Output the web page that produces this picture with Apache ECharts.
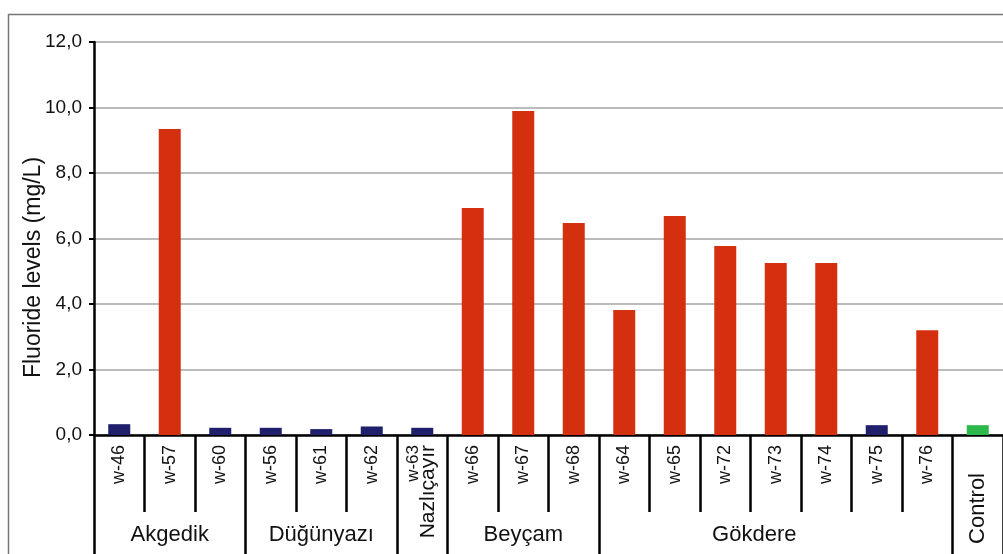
<!DOCTYPE html>
<html>
<head>
<meta charset="utf-8">
<script src="https://cdn.jsdelivr.net/npm/echarts@6/dist/echarts.min.js"></script>
<style>
  html, body { margin: 0; padding: 0; background: #fff; }
  #chart { width: 1003px; height: 554px; }
</style>
</head>
<body>
<div id="chart"></div>
<script>
// wells and their villages
var wells = ['w-46', 'w-57', 'w-60', 'w-56', 'w-61', 'w-62', 'w-63', 'w-66', 'w-67', 'w-68',
             'w-64', 'w-65', 'w-72', 'w-73', 'w-74', 'w-75', 'w-76', 'Control'];
var fluoride = [0.33, 9.34, 0.22, 0.22, 0.18, 0.26, 0.22, 6.93, 9.89, 6.47,
                3.82, 6.69, 5.77, 5.25, 5.25, 0.30, 3.20, 0.30];
// index of the first well of each group
var groupStarts = [0, 3, 6, 7, 10, 17];
var groupNames = ['Akgedik', 'Düğünyazı', 'Nazlıçayır', 'Beyçam', 'Gökdere', 'Control'];
var yTicks = [0, 2, 4, 6, 8, 10, 12];

var LIMIT = 1.5;
var FONT = '"Liberation Sans", Arial, sans-serif';

function barColor(i) {
  if (wells[i] === 'Control') return '#2cb84a';
  return fluoride[i] > LIMIT ? '#d4300f' : '#1f1f6b';
}

var chart = echarts.init(document.getElementById('chart'));

chart.setOption({
  animation: false,
  textStyle: { fontFamily: FONT },
  graphic: [{
    type: 'rect',
    shape: { x: 8.5, y: 14.5, width: 1100, height: 600 },
    style: { fill: null, stroke: '#777', lineWidth: 1.5 },
    silent: true,
    z: -1
  }],
  grid: { left: 94, right: -5, top: 42, bottom: 119, containLabel: false },
  xAxis: [
    {
      // well labels with short separators
      type: 'category',
      position: 'bottom',
      data: wells,
      axisLine: { lineStyle: { color: '#000', width: 2.5 } },
      axisTick: { show: true, interval: 0, length: 77, lineStyle: { color: '#000', width: 2.5 } },
      axisLabel: {
        interval: 0, rotate: 90, margin: 10, fontSize: 18, color: '#111', fontFamily: FONT,
        formatter: function (v) {
          if (v === 'Control') return '';
          if (v === 'w-63') return '{s|w-63}\n{big|Nazlıçayır}';
          return v;
        },
        rich: {
          s: { fontSize: 17, color: '#111', fontFamily: FONT, lineHeight: 12 },
          big: { fontSize: 21, color: '#111', fontFamily: FONT, lineHeight: 18 }
        }
      }
    },
    {
      // group separators and group names
      type: 'category',
      position: 'bottom',
      data: wells,
      axisLine: { show: false },
      axisTick: {
        show: true, length: 125,
        interval: function (idx) { return groupStarts.indexOf(idx) >= 0; },
        lineStyle: { color: '#000', width: 2.5 }
      },
      axisLabel: {
        interval: 0, margin: 89, fontSize: 22, color: '#111', fontFamily: FONT,
        formatter: function (v, i) {
          if (i === 1) return groupNames[0];
          if (i === 4) return groupNames[1];
          if (i === 8) return groupNames[3];
          if (i === 12) return '{g|' + groupNames[4] + '}';
          return '';
        },
        rich: { g: { fontSize: 22, color: '#111', fontFamily: FONT, padding: [0, 0, 0, 58] } }
      }
    },
    {
      // rotated control label
      type: 'category',
      position: 'bottom',
      data: wells,
      axisLine: { show: false },
      axisTick: { show: false },
      axisLabel: {
        interval: 0, rotate: 90, margin: 38, fontSize: 22, color: '#111', fontFamily: FONT,
        formatter: function (v) { return v === 'Control' ? v : ''; }
      }
    }
  ],
  yAxis: {
    type: 'value',
    min: yTicks[0], max: yTicks[yTicks.length - 1], interval: 2,
    name: 'Fluoride levels (mg/L)',
    nameLocation: 'middle',
    nameGap: 49,
    nameMoveOverlap: false,
    nameTextStyle: { fontSize: 23, color: '#111', fontFamily: FONT, padding: [0, 58, 0, 0] },
    axisLine: { show: true, lineStyle: { color: '#000', width: 2.5 } },
    axisTick: { show: true, length: 5, lineStyle: { color: '#000', width: 2 } },
    axisLabel: {
      fontSize: 19, color: '#111', margin: 12, fontFamily: FONT,
      formatter: function (v) { return v.toFixed(1).replace('.', ','); }
    },
    splitLine: { lineStyle: { color: '#a5a5a5', width: 1.5 } }
  },
  series: [{
    type: 'bar',
    xAxisIndex: 0,
    barWidth: 22,
    data: fluoride.map(function (v, i) {
      return { value: v, itemStyle: { color: barColor(i) } };
    })
  }]
});
</script>
</body>
</html>
